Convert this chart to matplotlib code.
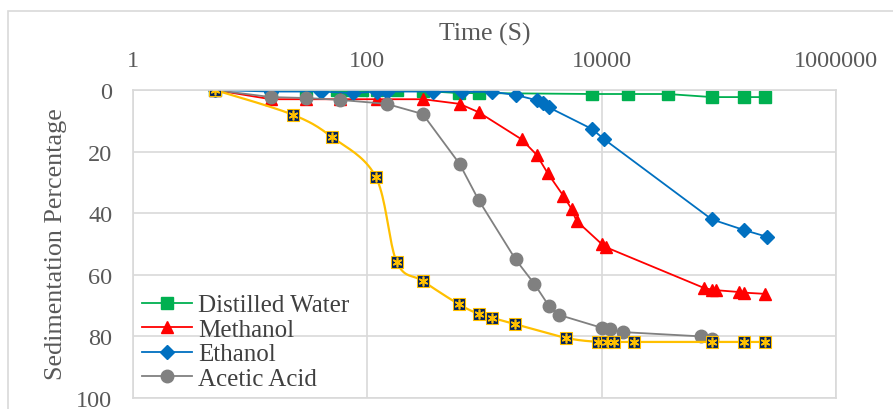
import numpy as np
import matplotlib
matplotlib.use('Agg')
import matplotlib.pyplot as plt
from matplotlib.patches import Rectangle

plt.rcParams['font.family'] = ['Liberation Serif', 'DejaVu Serif']

# data (time in s, sedimentation %)
water_t = [5, 15, 30, 55, 67, 90, 120, 180, 300, 600, 900, 8300, 16900, 36500, 87000, 165000, 250000]
water_y = [0, 0, 0, 0, 0, 0, 0, 0, 0.3, 1, 1, 1.3, 1.3, 1.3, 2.3, 2.3, 2.3]

methanol_t = [5, 15, 30, 58, 120, 300, 613, 890, 2070, 2780, 3460, 4720, 5530, 6100,
              10000, 10800, 75000, 87000, 95000, 150000, 165000, 250000]
methanol_y = [0, 3, 3, 3, 3, 3, 4.5, 7.2, 16, 21, 27, 34.4, 38.6, 42.5,
              50, 51, 64.3, 64.8, 65, 65.6, 65.8, 66.2]

ethanol_t = [5, 15, 40, 75, 120, 146, 360, 640, 1170, 1840, 2780, 3130, 3520, 8300, 10500,
             87000, 165000, 260000]
ethanol_y = [0, 0.5, 0.5, 1, 0.5, 0.5, 0.5, 0.6, 0.6, 1.6, 3.3, 4.2, 5.6, 12.7, 16,
             42, 45.5, 47.7]

acetic_t = [5, 15, 30, 58, 146, 297, 613, 890, 1840, 2670, 3530, 4300, 10000, 11700, 15100,
            71000, 87000]
acetic_y = [0, 2.3, 2.6, 3.2, 4.5, 7.8, 24, 35.7, 55, 63, 70, 73, 77.2, 77.6, 78.6,
            80, 81]

fifth_t = [5, 23, 50, 118, 178, 297, 600, 890, 1170, 1820, 5000, 9300, 11000, 12800, 19000,
           87000, 165000, 250000]
fifth_y = [0, 8, 15.3, 28.2, 55.8, 62, 69.5, 72.7, 74, 76, 80.5, 81.8, 81.8, 81.8, 81.8,
           81.8, 81.8, 81.8]

legend_names = ['Distilled Water', 'Methanol', 'Ethanol', 'Acetic Acid']


def smooth(t, y, n=20):
    # Catmull-Rom through the points in log-time space (like Excel's smoothed line)
    x = np.log10(t)
    y = np.asarray(y, float)
    px = np.concatenate([[x[0]], x, [x[-1]]])
    py = np.concatenate([[y[0]], y, [y[-1]]])
    xs, ys = [], []
    s = np.linspace(0, 1, n, endpoint=False)
    for i in range(1, len(px) - 2):
        for P, out in ((px, xs), (py, ys)):
            p0, p1, p2, p3 = P[i - 1], P[i], P[i + 1], P[i + 2]
            out.extend(0.5 * (2 * p1 + (-p0 + p2) * s
                              + (2 * p0 - 5 * p1 + 4 * p2 - p3) * s ** 2
                              + (-p0 + 3 * p1 - 3 * p2 + p3) * s ** 3))
    xs.append(x[-1])
    ys.append(y[-1])
    return 10 ** np.array(xs), np.array(ys)


fig = plt.figure(figsize=(8.93, 4.10), dpi=100)
ax = fig.add_axes([133 / 893, 1 - 399 / 410, (836 - 133) / 893, (399 - 91) / 410])

fig.patches.append(Rectangle((8 / 893, -0.1), 1.2, 1 - 12 / 410 + 0.1, transform=fig.transFigure,
                             fill=False, edgecolor='#d9d9d9', linewidth=1.2))

ax.plot(water_t, water_y, color='#00b050', lw=1.3, marker='s', ms=9, label=legend_names[0])
ax.plot(methanol_t, methanol_y, color='#ff0000', lw=1.3, marker='^', ms=9, label=legend_names[1])
ax.plot(ethanol_t, ethanol_y, color='#0070c0', lw=1.3, marker='D', ms=7, label=legend_names[2])
ax.plot(acetic_t, acetic_y, color='#808080', lw=1.3, marker='o', ms=9, label=legend_names[3])

sx, sy = smooth(fifth_t, fifth_y)
ax.plot(sx, sy, color='#ffc000', lw=1.6)
ax.plot(fifth_t, fifth_y, ls='none', marker='s', ms=9, mfc='#002060', mec='#ffc000', mew=0.8)
ax.plot(fifth_t, fifth_y, ls='none', marker=(6, 2, 0), ms=7, color='#ffc000', mew=1.2)

ax.set_xscale('log')
ax.set_xlim(1, 1e6)
ax.set_ylim(100, 0)
ax.set_xticks([1, 100, 10000, 1000000])
ax.set_xticklabels(['1', '100', '10000', '1000000'])
ax.minorticks_off()
ax.set_yticks([0, 20, 40, 60, 80, 100])
ax.xaxis.tick_top()
ax.xaxis.set_label_position('top')
ax.tick_params(length=0, labelsize=17.5, colors='#595959')
ax.tick_params(axis='x', pad=14)
ax.tick_params(axis='y', pad=15)
ax.grid(True, color='#d9d9d9', lw=1.2)
ax.set_axisbelow(True)
for sp in ax.spines.values():
    sp.set_color('#d9d9d9')
    sp.set_linewidth(1.2)

fig.text(485 / 893, 1 - 34 / 410, 'Time (S)', ha='center', va='center', fontsize=18.5, color='#595959')
fig.text(56 / 893, 1 - 244 / 410, 'Sedimentation Percentage', ha='center', va='center',
         rotation=90, fontsize=18.8, color='#595959')

leg = ax.legend(loc='upper left', bbox_to_anchor=(142 / 893, 1 - 295 / 410),
                bbox_transform=fig.transFigure, frameon=False, fontsize=18,
                borderaxespad=0, borderpad=0, labelspacing=0.08, handlelength=2.0,
                handletextpad=0.25)
for txt in leg.get_texts():
    txt.set_color('#404040')

fig.savefig('out.png', dpi=100)
